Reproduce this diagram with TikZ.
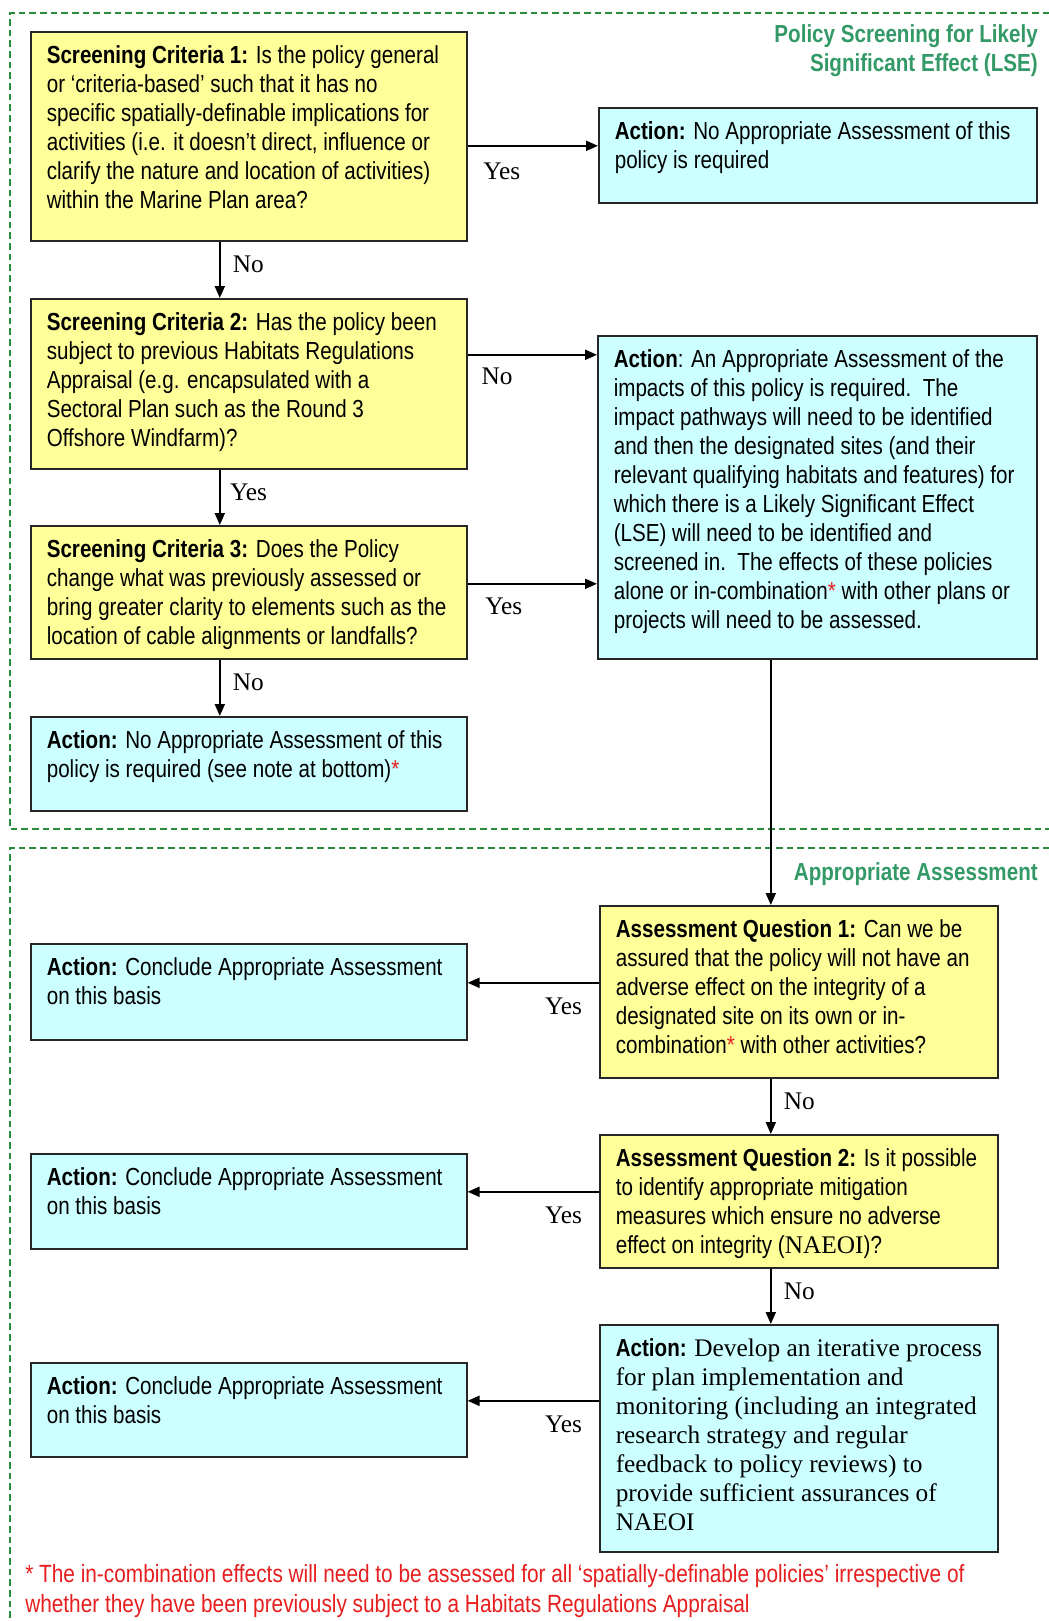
\documentclass[tikz,border=0pt]{standalone}
\usepackage{fontspec}
\setmainfont{Liberation Serif}
\newfontfamily\estreita[FakeStretch=0.835]{Liberation Sans}
\usetikzlibrary{arrows.meta,calc}

\definecolor{amarelo}{RGB}{255,255,153}
\definecolor{ciano}{RGB}{204,255,255}
\definecolor{verde}{RGB}{51,153,102}
\definecolor{tracejado}{RGB}{40,140,60}
\definecolor{vermelho}{RGB}{230,30,30}

\newlength{\pxu}\setlength{\pxu}{0.75pt}
\newcommand{\caixa}[3]{\parbox[c][#2\pxu][t]{#1\pxu}{\rightskip=0pt plus 1fil minus 100pt\rule{0pt}{24pt}#3}}
\newcommand{\estrela}{\textcolor{vermelho}{*}}
\newcommand{\serifa}{\rmfamily\fontsize{19pt}{21.75pt}\selectfont}

\tikzstyle{fonte} = [font=\estreita\fontsize{18.5pt}{21.75pt}\selectfont]
\tikzstyle{caixabase} = [fonte, draw=black!85, line width=1.2pt, anchor=north west, inner xsep=12pt, inner ysep=0pt]
\tikzstyle{pergunta} = [caixabase, fill=amarelo]
\tikzstyle{acao} = [caixabase, fill=ciano]
\tikzstyle{rotulo} = [font=\serifa, inner sep=0pt]
\tikzstyle{titulo} = [font=\estreita\bfseries\fontsize{18.5pt}{21.75pt}\selectfont, text=verde, align=right, inner sep=0pt]
\tikzstyle{moldura} = [draw=tracejado, line width=1.1pt, dash pattern=on 5pt off 3pt]
\tikzstyle{seta} = [->, line width=1.5pt]

\begin{document}
\begin{tikzpicture}[x=0.75pt, y=-0.75pt, >={Triangle[length=9pt, width=7.5pt]}]

    \useasboundingbox (0,0) rectangle (1049,1621);

    % dashed frames
    \draw [moldura] (1060,13) -- (10,13) -- (10,829) -- (1060,829);
    \draw [moldura] (1060,848) -- (10,848) -- (10,1640);

    \node at (1038,24) [titulo, anchor=north east] (tit1) {Policy Screening for Likely\\Significant Effect (LSE)};
    \node at (1038,880) [titulo, anchor=base east] (tit2) {Appropriate Assessment};

    % screening
    \node at (30,31) [pergunta] (sc1) {\caixa{404}{209}{\textbf{Screening Criteria 1:} Is the policy general\\or ‘criteria-based’ such that it has no\\specific spatially-definable implications for\\activities (i.e. it doesn’t direct, influence or\\clarify the nature and location of activities)\\within the Marine Plan area?}};
    \node at (598,107) [acao] (act1) {\caixa{406}{95}{\textbf{Action:} No Appropriate Assessment of this\\policy is required}};

    \node at (30,298) [pergunta] (sc2) {\caixa{404}{170}{\textbf{Screening Criteria 2:} Has the policy been\\subject to previous Habitats Regulations\\Appraisal (e.g. encapsulated with a\\Sectoral Plan such as the Round 3\\Offshore Windfarm)?}};
    \node at (30,525) [pergunta] (sc3) {\caixa{404}{133}{\textbf{Screening Criteria 3:} Does the Policy\\change what was previously assessed or\\bring greater clarity to elements such as the\\location of cable alignments or landfalls?}};
    \node at (30,716) [acao] (noaa) {\caixa{404}{94}{\textbf{Action:} No Appropriate Assessment of this\\policy is required (see note at bottom)\estrela}};

    \node at (597,335) [acao] (aa) {\caixa{407}{323}{\textbf{Action}: An Appropriate Assessment of the\\impacts of this policy is required.\ \ The\\impact pathways will need to be identified\\and then the designated sites (and their\\relevant qualifying habitats and features) for\\which there is a Likely Significant Effect\\(LSE) will need to be identified and\\screened in.\ \ The effects of these policies\\alone or in-combination\estrela{} with other plans or\\projects will need to be assessed.}};

    % appropriate assessment
    \node at (599,905) [pergunta] (aq1) {\caixa{366}{172}{\textbf{Assessment Question 1:} Can we be\\assured that the policy will not have an\\adverse effect on the integrity of a\\designated site on its own or in-\\combination\estrela{} with other activities?}};
    \node at (30,943) [acao] (left1) {\caixa{404}{96}{\textbf{Action:} Conclude Appropriate Assessment\\on this basis}};

    \node at (599,1134) [pergunta] (aq2) {\caixa{366}{133}{\textbf{Assessment Question 2:} Is it possible\\to identify appropriate mitigation\\measures which ensure no adverse\\effect on integrity ({\serifa NAEOI})?}};
    \node at (30,1153) [acao] (left2) {\caixa{404}{95}{\textbf{Action:} Conclude Appropriate Assessment\\on this basis}};

    \node at (599,1324) [acao] (final) {\caixa{366}{227}{\textbf{Action:} {\serifa Develop an iterative process\\for plan implementation and\\monitoring (including an integrated\\research strategy and regular\\feedback to policy reviews) to\\provide sufficient assurances of\\NAEOI}}};
    \node at (30,1362) [acao] (left3) {\caixa{404}{94}{\textbf{Action:} Conclude Appropriate Assessment\\on this basis}};

    % arrows
    \coordinate (s1) at ($(sc1.east)+(0,9.5)$);
    \draw [seta] (s1) -- node [rotulo, pos=0, anchor=north west, xshift=11pt, yshift=-12pt] (sim1) {Yes} (s1 -| act1.west);
    \coordinate (v1) at ($(sc1.south)+(-29,0)$);
    \draw [seta] (v1) -- node [rotulo, anchor=west, xshift=9pt, yshift=3.75pt] (nao1) {No} (v1 |- sc2.north);

    \coordinate (s2) at ($(sc2.east)+(0,-29)$);
    \draw [seta] (s2) -- node [rotulo, pos=0, anchor=north west, xshift=9.75pt, yshift=-9pt] (nao2) {No} (s2 -| aa.west);
    \coordinate (v2) at ($(sc2.south)+(-29,0)$);
    \draw [seta] (v2) -- node [rotulo, anchor=west, xshift=7pt, yshift=3.75pt] (sim2) {Yes} (v2 |- sc3.north);

    \coordinate (s3) at ($(sc3.east)+(0,-8.5)$);
    \draw [seta] (s3) -- node [rotulo, pos=0, anchor=north west, xshift=12.5pt, yshift=-9.75pt] (sim3) {Yes} (s3 -| aa.west);
    \coordinate (v3) at ($(sc3.south)+(-29,0)$);
    \draw [seta] (v3) -- node [rotulo, anchor=west, xshift=9pt, yshift=3.75pt] (nao3) {No} (v3 |- noaa.north);

    \coordinate (v4) at ($(aa.south)+(-46.5,0)$);
    \draw [seta] (v4) -- (v4 |- aq1.north);

    \coordinate (s4) at ($(aq1.west)+(0,-9)$);
    \draw [seta] (s4) -- node [rotulo, pos=0, anchor=north east, xshift=-12pt, yshift=-10.5pt] (sim4) {Yes} (s4 -| left1.east);
    \coordinate (v5) at ($(aq1.south)+(-28,0)$);
    \draw [seta] (v5) -- node [rotulo, anchor=west, xshift=9pt, yshift=3.75pt] (nao4) {No} (v5 |- aq2.north);

    \coordinate (s5) at ($(aq2.west)+(0,-9.5)$);
    \draw [seta] (s5) -- node [rotulo, pos=0, anchor=north east, xshift=-12pt, yshift=-10.5pt] (sim5) {Yes} (s5 -| left2.east);
    \coordinate (v6) at ($(aq2.south)+(-28,0)$);
    \draw [seta] (v6) -- node [rotulo, anchor=west, xshift=9pt, yshift=3.75pt] (nao5) {No} (v6 |- final.north);

    \coordinate (s6) at ($(final.west)+(0,-37.5)$);
    \draw [seta] (s6) -- node [rotulo, pos=0, anchor=north east, xshift=-12pt, yshift=-10.5pt] (sim6) {Yes} (s6 -| left3.east);

    % note
    \node at (25,1564) [text=vermelho, align=left, anchor=north west, inner sep=0pt, font=\estreita\fontsize{18.7pt}{22.5pt}\selectfont] (nota) {* The in-combination effects will need to be assessed for all ‘spatially-definable policies’ irrespective of\\whether they have been previously subject to a Habitats Regulations Appraisal};

\end{tikzpicture}
\end{document}
